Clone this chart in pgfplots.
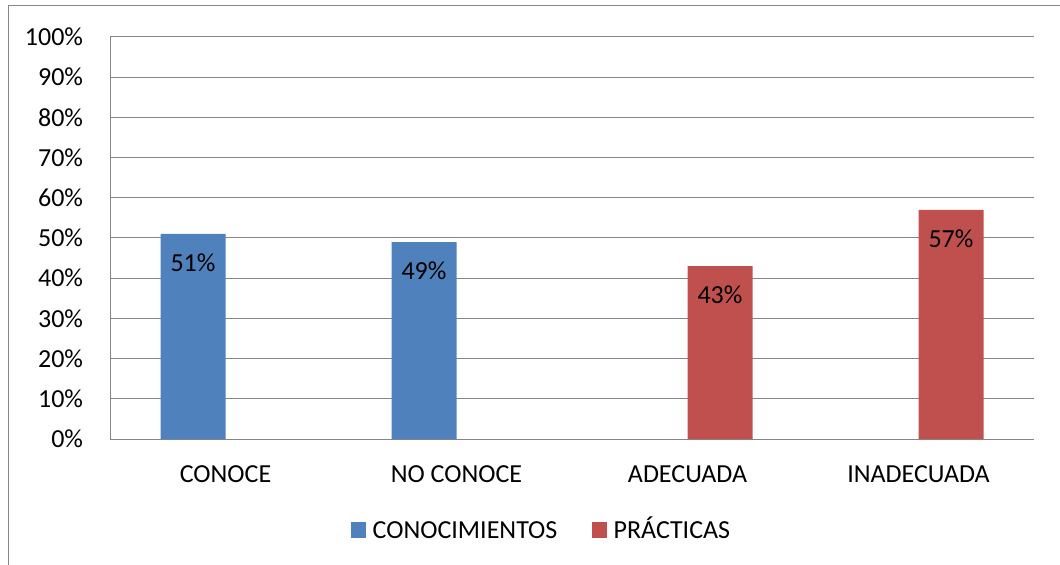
\documentclass[border=0pt]{standalone}
\usepackage{fontspec}
\setmainfont{Carlito}
\usepackage{pgfplots}
\pgfplotsset{compat=1.18}
\definecolor{cblue}{RGB}{79,129,189}
\definecolor{cred}{RGB}{192,80,77}
\definecolor{gridc}{RGB}{134,134,134}
\begin{document}
\fontsize{19.5}{23}\selectfont
\begin{tikzpicture}
\useasboundingbox (0,0) rectangle (795pt,423pt);
\draw[gridc, line width=0.75pt] (6.2pt,-2pt) -- (6.2pt,418.5pt) -- (800pt,418.5pt);
\begin{axis}[
  at={(82.5pt,93.75pt)}, anchor=south west,
  width=693pt, height=301.5pt, scale only axis,
  ybar=0pt, bar width=48.75pt,
  xmin=-0.5, xmax=3.5, ymin=0, ymax=100,
  xtick={0,1,2,3},
  xticklabels={CONOCE, NO CONOCE, ADECUADA, INADECUADA},
  ytick={0,10,20,30,40,50,60,70,80,90,100},
  yticklabels={0\%,10\%,20\%,30\%,40\%,50\%,60\%,70\%,80\%,90\%,100\%},
  ymajorgrids, grid style={gridc, line width=0.75pt},
  axis lines*=left, axis line style={gridc, line width=0.75pt, -},
  major tick length=0pt,
  /pgf/number format/assume math mode=true,
  tick label style={font=\fontsize{19.5}{23}\selectfont, black},
  yticklabel style={anchor=east, inner sep=0pt, xshift=-20pt},
  xticklabel style={anchor=north, inner sep=0pt, yshift=-19.5pt},
  nodes near coords={\pgfmathprintnumber[assume math mode=true]{\pgfplotspointmeta}\%},
  every node near coord/.append style={anchor=base, yshift=-28pt, inner sep=0pt, font=\fontsize{19.5}{23}\selectfont, black},
  legend style={at={(0.466,-0.226)}, anchor=center, draw=none, fill=none,
    legend columns=2, font=\fontsize{19.5}{23}\selectfont,
    nodes={inner sep=0pt, text height=12.6pt, text depth=0pt},
    /tikz/every odd column/.append style={column sep=5pt},
    /tikz/every even column/.append style={column sep=26pt}},
  legend image code/.code={\fill[#1] (0pt,-5.8pt) rectangle (11.25pt,5.8pt);},
]
\addplot[fill=cblue, draw=none] coordinates {(0,51) (1,49)};
\addlegendentry{CONOCIMIENTOS}
\addplot[fill=cred, draw=none] coordinates {(2,43) (3,57)};
\addlegendentry{PRÁCTICAS}
\end{axis}
\end{tikzpicture}
\end{document}
